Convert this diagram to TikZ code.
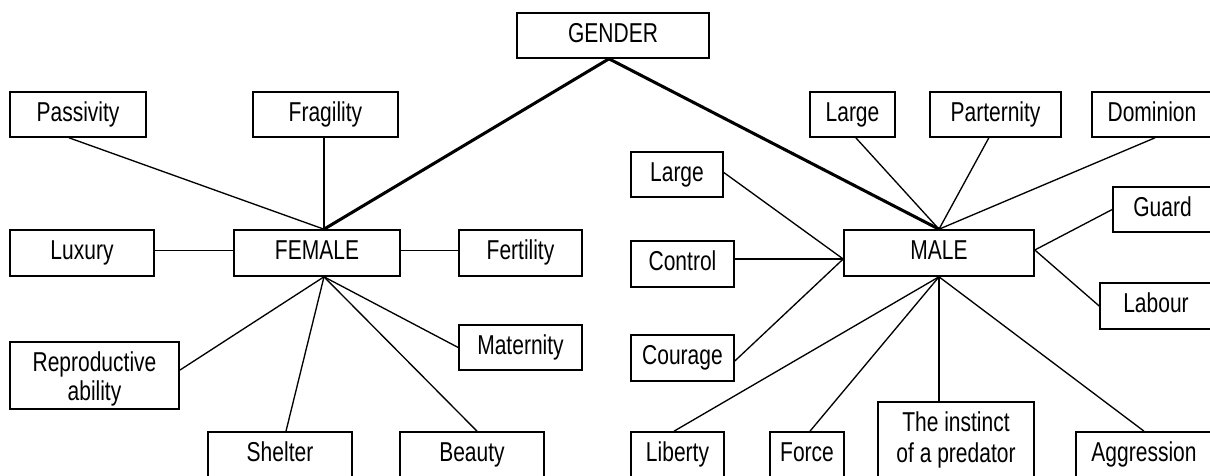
\documentclass[tikz,border=0pt]{standalone}
\usepackage{fontspec}
\usepackage{graphicx}
\setmainfont{Liberation Sans}
\usetikzlibrary{calc}
\newcommand\st[1]{\scalebox{1}[1.3]{#1}}
\newcommand\bx[6]{\node[box, oneline, minimum width={(#4-#2)*0.75pt}, minimum height={(#5-#3)*0.75pt}] (#1) at ({(#2+#4)/2},{(#3+#5)/2}) {\st{#6}};}
\newcommand\bb[4]{\node[box, anchor=base, minimum width={(#3-#2)*0.75pt}, text height=22.3pt, text depth=21.2pt] (#1) at ({(#2+#3)/2},461.7) {\st{#4}};}
\begin{document}
\begin{tikzpicture}[x=0.75pt,y=-0.75pt,
  box/.style={draw, line width=1.2pt, inner sep=0pt, font=\fontsize{15.75}{21.75}\selectfont},
  oneline/.style={text height=14.7pt, text depth=4.3pt},
  conn/.style={line width=1pt},
  thickconn/.style={line width=2.3pt}]
\useasboundingbox (0,0) rectangle (1210,475);
\clip (0,0) rectangle (1210,475);
% boxes
\bx{gender}{517}{13}{709}{58}{GENDER}
\bx{pass}{10}{92}{146}{137}{Passivity}
\bx{frag}{253}{92}{398}{137}{Fragility}
\bx{larget}{810}{92}{895}{137}{Large}
\bx{patern}{930}{92}{1061}{137}{Parternity}
\bx{domin}{1092}{92}{1212}{137}{Dominion}
\bx{largel}{631}{152}{723}{197}{Large}
\bx{guard}{1113}{187}{1212}{232}{Guard}
\bx{luxury}{10}{230}{154}{276}{Luxury}
\bx{female}{234}{230}{400}{276}{FEMALE}
\bx{fert}{459}{230}{582}{276}{Fertility}
\bx{control}{631}{241}{734}{287}{Control}
\bx{male}{844}{230}{1034}{276}{MALE}
\bx{labour}{1100}{283}{1212}{329}{Labour}
\bx{courage}{631}{335}{734}{381}{Courage}
\bx{matern}{459}{325}{582}{370}{Maternity}
\node[box, anchor=base, minimum width={169*0.75pt}, text height=44.1pt, text depth=6.2pt] (repro) at (94.5,400.75) {\begin{tabular}[b]{@{}c@{}}\st{Reproductive}\\\st{ability}\end{tabular}};
\bb{shelter}{208}{352}{Shelter}
\bb{beauty}{400}{544}{Beauty}
\bb{liberty}{631}{724}{Liberty}
\bb{force}{770}{844}{Force}
\bb{aggr}{1076}{1212}{Aggression}
\node[box, anchor=base, minimum width={156*0.75pt}, text height=45.4pt, text depth=20.6pt, font=\fontsize{15.75}{23.6}\selectfont] (instinct) at (956,462.5) {\begin{tabular}[b]{@{}c@{}}\st{The instinct}\\\st{of a predator}\end{tabular}};
% hubs
\coordinate (fT) at ([xshift=5.25pt]female.north);
\coordinate (fB) at ([xshift=5.25pt]female.south);
\coordinate (mT) at (male.north);
\coordinate (mB) at (male.south);
\coordinate (mL) at ([yshift=-4.5pt]male.west);
\coordinate (mR) at ([yshift=2.25pt]male.east);
\coordinate (gB) at ([xshift=-3pt]gender.south);
% thick connectors
\draw[thickconn] (gB) -- (fT);
\draw[thickconn] (gB) -- (mT);
% female connectors
\draw[conn] ([xshift=-6.75pt]pass.south) -- (fT);
\draw[conn] (fT |- frag.south) -- (fT);
\draw[conn] ([yshift=2pt]luxury.east) -- ([yshift=2pt]female.west);
\draw[conn] ([yshift=2pt]female.east) -- ([yshift=2pt]fert.west);
\draw[conn] (fB) -- ([yshift=4pt]repro.east);
\draw[conn] (fB) -- (matern.west);
\draw[conn] (fB) -- ([xshift=4.5pt]shelter.north);
\draw[conn] (fB) -- ([xshift=3.75pt]beauty.north);
% male connectors
\draw[conn] ([xshift=2.5pt]larget.south) -- (mT);
\draw[conn] ([xshift=-5pt]patern.south) -- (mT);
\draw[conn] ([xshift=2.25pt]domin.south) -- (mT);
\draw[conn] ([yshift=1.5pt]largel.east) -- (mL);
\draw[conn] ([yshift=3.75pt]control.east) -- (mL);
\draw[conn] ([yshift=-2.25pt]courage.east) -- (mL);
\draw[conn] (guard.west) -- (mR);
\draw[conn] (mR) -- (labour.west);
\draw[conn] (mB) -- ([xshift=-2.6pt]liberty.north);
\draw[conn] (mB) -- ([xshift=2.25pt]force.north);
\draw[conn] (mB) -- (mB |- instinct.north);
\draw[conn] (mB) -- (aggr.north);
\end{tikzpicture}
\end{document}
